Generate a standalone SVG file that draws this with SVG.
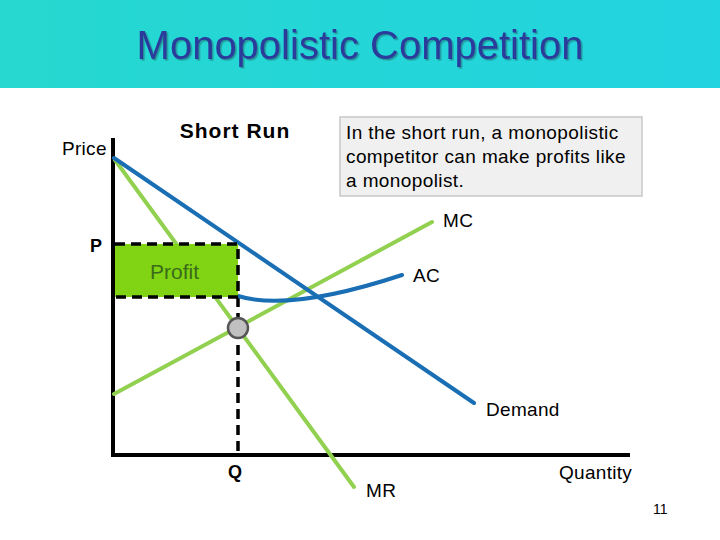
<svg xmlns="http://www.w3.org/2000/svg" width="720" height="540" viewBox="0 0 720 540">
<defs>
<linearGradient id="bg" x1="0" y1="0" x2="1" y2="0">
<stop offset="0" stop-color="#26d8cf"/>
<stop offset="1" stop-color="#22d3e0"/>
</linearGradient>
<filter id="sh" x="-5%" y="-20%" width="110%" height="140%">
<feDropShadow dx="1.5" dy="1.5" stdDeviation="0.6" flood-color="#1a6a70" flood-opacity="0.6"/>
</filter>
</defs>
<style>
text{font-family:"Liberation Sans",Arial,sans-serif;fill:#000}
.lbl{font-size:19px;letter-spacing:0.3px}
.note{font-size:19px;letter-spacing:0.4px}
.blue{fill:none;stroke:#1a6eb4;stroke-width:4;stroke-linecap:round}
.green{fill:none;stroke:#92d050;stroke-width:4;stroke-linecap:round}
.axis{stroke:#000;stroke-width:4;fill:none}
.dash{stroke:#000;stroke-width:3.5;fill:none;stroke-dasharray:10,6}
</style>
<rect width="720" height="540" fill="#fff"/>
<rect width="720" height="88" fill="url(#bg)"/>
<text x="360" y="59" text-anchor="middle" font-size="40" style="fill:#2b3a9c" filter="url(#sh)">Monopolistic Competition</text>

<g id="connectors">
<line class="axis" x1="113" y1="138" x2="113" y2="457"/>
<line class="axis" x1="111" y1="455" x2="630" y2="455"/>
<line class="dash" x1="238" y1="297" x2="238" y2="455"/>
<line class="green" x1="115" y1="160" x2="354" y2="487"/>
<line class="green" x1="114" y1="394" x2="432" y2="222"/>
<path class="blue" d="M238,296 Q290,312 402,275"/>
<line class="blue" x1="114" y1="158" x2="474" y2="403"/>
</g>

<g id="profit">
<rect x="115" y="244" width="123" height="53" fill="#80d414"/>
<polyline class="dash" points="115,244 238,244 238,297 115,297"/>
<text x="150" y="279" font-size="21" style="fill:#3b6b1a">Profit</text>
</g>

<g id="equilibrium">
<circle cx="238" cy="328" r="10" fill="#c0c0c0" stroke="#555" stroke-width="2.5"/>
</g>

<g id="labels">
<text class="lbl" x="62" y="155">Price</text>
<text x="235" y="138" font-size="21" font-weight="bold" letter-spacing="1" text-anchor="middle">Short Run</text>
<text x="90" y="252" font-size="18" font-weight="bold">P</text>
<text class="lbl" x="443" y="227">MC</text>
<text class="lbl" x="413" y="282">AC</text>
<text class="lbl" x="486" y="416">Demand</text>
<text x="228" y="478" font-size="18" font-weight="bold">Q</text>
<text class="lbl" x="366" y="497">MR</text>
<text class="lbl" x="559" y="479">Quantity</text>
<text x="653" y="514" font-size="14">11</text>
</g>

<g id="note">
<rect x="340" y="117" width="302" height="79" fill="#f0f0f0" stroke="#c8c8c8" stroke-width="1.5"/>
<text class="note" x="346" y="139">In the short run, a monopolistic</text>
<text class="note" x="346" y="163">competitor can make profits like</text>
<text class="note" x="346" y="187">a monopolist.</text>
</g>
</svg>
